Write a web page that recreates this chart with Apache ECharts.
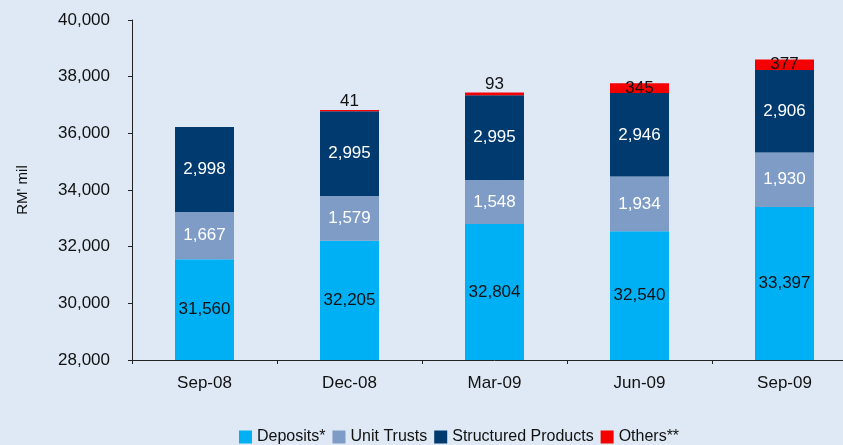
<!DOCTYPE html>
<html>
<head>
<meta charset="utf-8">
<script src="https://cdn.jsdelivr.net/npm/echarts@6/dist/echarts.min.js"></script>
<style>
html,body{margin:0;padding:0;background:#dee9f5;overflow:hidden;width:843px;height:445px;}
#c{width:860px;height:445px;}
</style>
</head>
<body>
<div id="c"></div>
<script>
var categories = ['Sep-08', 'Dec-08', 'Mar-09', 'Jun-09', 'Sep-09'];
var deposits = [31560, 32205, 32804, 32540, 33397];
var unitTrusts = [1667, 1579, 1548, 1934, 1930];
var structured = [2998, 2995, 2995, 2946, 2906];
var others = [0, 41, 93, 345, 377];
var seriesNames = ['Deposits*', 'Unit Trusts', 'Structured Products', 'Others**'];

var FONT = 'Liberation Sans, Arial, sans-serif';
function fmt(v){ return v.toLocaleString('en-US'); }

var chart = echarts.init(document.getElementById('c'), null, {renderer:'canvas'});
var othersData = others.map(function(v){
  if (v === 0) return {value: v, label: {show: false}};
  if (v < 200) return {value: v, label: {show: true, position: 'top', distance: 0}};
  return {value: v, label: {show: true, position: 'inside'}};
});
function lbl(color){
  return {show: true, position: 'inside', color: color, fontFamily: FONT, fontSize: 17,
          formatter: function(p){ return fmt(p.value); }};
}
chart.setOption({
  backgroundColor: '#dee9f5',
  animation: false,
  grid: {left: 132, top: 20, width: 725, bottom: 85, containLabel: false},
  legend: {
    left: 234, top: 424, itemWidth: 13, itemHeight: 13, itemGap: 7,
    icon: 'rect',
    textStyle: {fontFamily: FONT, fontSize: 16, color: '#111'},
    data: seriesNames
  },
  xAxis: {
    type: 'category', data: categories,
    axisLine: {lineStyle: {color: '#222', width: 1}},
    axisTick: {show: true, length: 4, lineStyle: {color: '#222'}},
    axisLabel: {fontFamily: FONT, fontSize: 17, color: '#111', margin: 15}
  },
  yAxis: {
    type: 'value', min: 28000, max: 40000, interval: 2000,
    name: "RM' mil", nameLocation: 'middle', nameGap: 102, nameRotate: 90,
    nameTextStyle: {fontFamily: FONT, fontSize: 15, color: '#111'},
    splitLine: {show: false},
    axisLine: {show: true, lineStyle: {color: '#222', width: 1}},
    axisTick: {show: true, length: 4, lineStyle: {color: '#222'}},
    axisLabel: {fontFamily: FONT, fontSize: 17, color: '#111', margin: 22,
                formatter: function(v){ return fmt(v); }}
  },
  series: [
    {name: seriesNames[0], type: 'bar', stack: 't', barWidth: 59, data: deposits,
     itemStyle: {color: '#00b0f5'}, label: lbl('#111')},
    {name: seriesNames[1], type: 'bar', stack: 't', barWidth: 59, data: unitTrusts,
     itemStyle: {color: '#7f9cc6'}, label: lbl('#ffffff')},
    {name: seriesNames[2], type: 'bar', stack: 't', barWidth: 59, data: structured,
     itemStyle: {color: '#003a6e'}, label: lbl('#ffffff')},
    {name: seriesNames[3], type: 'bar', stack: 't', barWidth: 59, data: othersData,
     itemStyle: {color: '#f50000'}, label: lbl('#111')}
  ]
});
</script>
</body>
</html>
